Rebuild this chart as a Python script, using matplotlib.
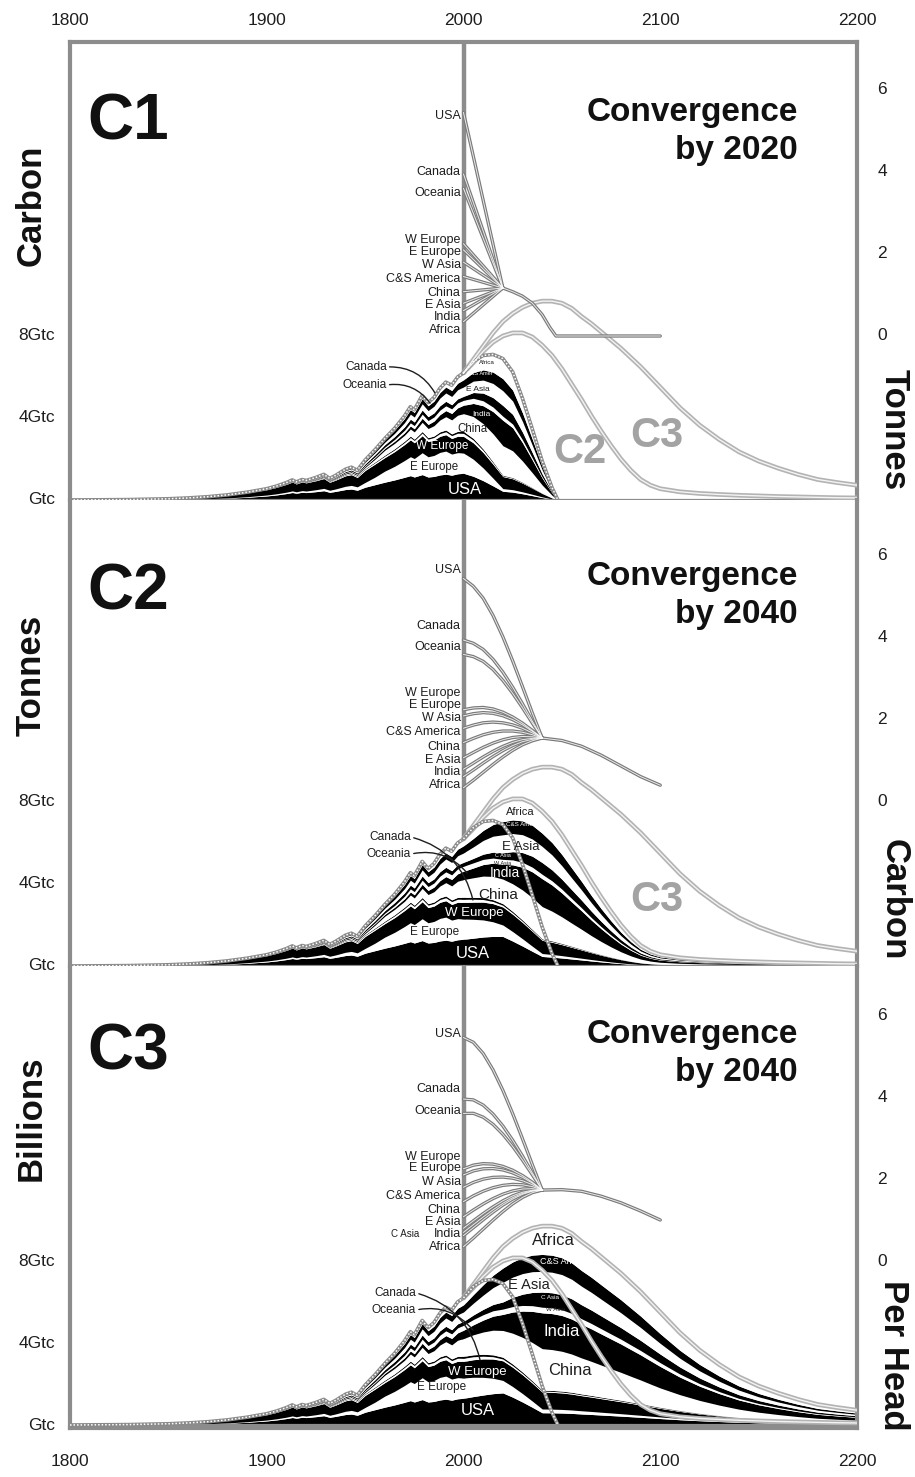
import numpy as np
import matplotlib
matplotlib.use("Agg")
import matplotlib.pyplot as plt

plt.rcParams['font.family'] = ['Liberation Sans', 'DejaVu Sans']

# ---------------------------------------------------------------- data
regions = ['USA', 'E Europe', 'W Europe', 'Canada', 'Oceania', 'China',
           'India', 'W Asia', 'C Asia', 'E Asia', 'C&S America', 'Africa']
band_colors = ['black', 'white'] * 6

# historical global emissions (GtC)
hist_years = [1800, 1830, 1850, 1860, 1870, 1880, 1890, 1900, 1905, 1910, 1913,
              1915, 1918, 1920, 1925, 1929, 1932, 1935, 1940, 1943, 1946, 1950,
              1955, 1960, 1965, 1970, 1973, 1975, 1979, 1982, 1985, 1988, 1991,
              1994, 1997, 2000]
hist_total = [0.0, 0.02, 0.06, 0.10, 0.16, 0.25, 0.38, 0.55, 0.68, 0.85, 0.98,
              0.88, 1.0, 0.95, 1.1, 1.25, 1.05, 1.2, 1.5, 1.6, 1.45, 1.95,
              2.45, 3.0, 3.5, 4.1, 4.55, 4.4, 5.1, 4.75, 5.0, 5.45, 5.75,
              5.6, 6.0, 6.2]

# regional shares of the historical total (rows follow `regions`)
hist_share_years = [1800, 1850, 1900, 1920, 1950, 1960, 1970, 1980, 1990, 2000]
share_usa = [0.30, 0.30, 0.36, 0.38, 0.32, 0.29, 0.27, 0.24, 0.22, 0.21]
share_eeu = [0.05, 0.05, 0.08, 0.08, 0.12, 0.18, 0.20, 0.21, 0.20, 0.16]
share_weu = [0.60, 0.60, 0.48, 0.42, 0.30, 0.22, 0.19, 0.16, 0.14, 0.13]
share_can = [0.01, 0.01, 0.015, 0.02, 0.03, 0.025, 0.025, 0.025, 0.025, 0.025]
share_oce = [0.005, 0.005, 0.01, 0.01, 0.015, 0.015, 0.015, 0.015, 0.015, 0.015]
share_chn = [0.005, 0.005, 0.005, 0.01, 0.03, 0.08, 0.07, 0.09, 0.11, 0.14]
share_ind = [0.01, 0.01, 0.015, 0.02, 0.03, 0.03, 0.03, 0.04, 0.05, 0.065]
share_was = [0.005, 0.005, 0.005, 0.01, 0.02, 0.02, 0.03, 0.04, 0.04, 0.04]
share_cas = [0.005, 0.005, 0.005, 0.01, 0.04, 0.04, 0.04, 0.04, 0.04, 0.03]
share_eas = [0.005, 0.005, 0.015, 0.02, 0.04, 0.04, 0.05, 0.06, 0.07, 0.075]
share_csa = [0.0025, 0.0025, 0.005, 0.01, 0.035, 0.04, 0.05, 0.05, 0.05, 0.055]
share_afr = [0.0025, 0.0025, 0.005, 0.01, 0.02, 0.02, 0.03, 0.03, 0.04, 0.055]
hist_shares = [share_usa, share_eeu, share_weu, share_can, share_oce, share_chn,
               share_ind, share_was, share_cas, share_eas, share_csa, share_afr]

# shares half-way to convergence (2020, C2/C3), at convergence, and late-century
mid_shares = [0.18, 0.07, 0.11, 0.01, 0.01, 0.15, 0.09, 0.03, 0.04, 0.11, 0.08, 0.12]
conv_shares = [0.065, 0.02, 0.09, 0.005, 0.005, 0.22, 0.19, 0.03, 0.08, 0.11, 0.09, 0.15]
late_shares = [0.06, 0.015, 0.08, 0.005, 0.005, 0.18, 0.20, 0.035, 0.08, 0.10, 0.09, 0.20]

# contraction budgets (GtC)
c1_years = [2000, 2005, 2010, 2015, 2020, 2025, 2030, 2035, 2040, 2045, 2048]
c1_total = [6.2, 6.75, 7.05, 7.1, 6.9, 6.25, 4.95, 3.45, 1.9, 0.6, 0.0]
c2_years = [2000, 2005, 2010, 2015, 2020, 2025, 2030, 2035, 2040, 2045, 2050,
            2055, 2060, 2065, 2070, 2075, 2080, 2085, 2090, 2095, 2100, 2110,
            2120, 2130, 2140, 2150, 2160, 2170, 2180, 2190, 2200]
c2_total = [6.2, 6.7, 7.25, 7.7, 8.0, 8.15, 8.15, 7.95, 7.55, 7.05, 6.4,
            5.65, 4.9, 4.1, 3.35, 2.65, 2.0, 1.45, 1.0, 0.72, 0.55, 0.4,
            0.32, 0.27, 0.23, 0.2, 0.17, 0.15, 0.13, 0.11, 0.1]
c3_years = c2_years
c3_total = [6.2, 6.85, 7.5, 8.15, 8.7, 9.1, 9.4, 9.6, 9.7, 9.7, 9.6,
            9.35, 8.95, 8.6, 8.2, 7.8, 7.4, 6.95, 6.5, 6.0, 5.5, 4.5,
            3.65, 2.95, 2.35, 1.9, 1.55, 1.25, 1.0, 0.85, 0.72]

# per-capita emissions (tonnes C per head) in 2000
pc_regions = ['USA', 'Canada', 'Oceania', 'W Europe', 'E Europe', 'W Asia',
              'C&S America', 'China', 'E Asia', 'India', 'Africa']
pc_2000 = [5.45, 3.95, 3.6, 2.25, 2.1, 1.8, 1.45, 1.08, 0.8, 0.62, 0.35]
pc_casia_2000 = 0.7

# convergence paths
c1_path_years = [2000, 2005, 2010, 2015, 2020]
c1_bump = [0, 0, 0, 0, 0]
c2_path_years = [2000, 2005, 2010, 2015, 2020, 2025, 2030, 2035, 2040]
c2_bump = [0, 0.06, 0.11, 0.14, 0.15, 0.14, 0.11, 0.06, 0]
c3_bump = [0, 0.07, 0.12, 0.15, 0.16, 0.15, 0.12, 0.07, 0]

# global per-capita after convergence
c1_pc_years = [2020, 2025, 2030, 2035, 2040, 2044, 2047, 2100]
c1_pc = [1.17, 1.08, 0.97, 0.8, 0.52, 0.2, 0.0, 0.0]
c2_pc_years = [2040, 2050, 2060, 2070, 2080, 2090, 2100]
c2_pc = [1.56, 1.5, 1.36, 1.14, 0.88, 0.62, 0.41]
c3_pc_years = [2040, 2050, 2060, 2070, 2080, 2090, 2100]
c3_pc = [1.73, 1.74, 1.70, 1.58, 1.42, 1.22, 1.0]

# label heights (tonnes per head) of the region names beside the 2000 line
lab_pc1 = [5.37, 4.0, 3.49, 2.34, 2.05, 1.73, 1.39, 1.05, 0.76, 0.46, 0.15]
lab_pc2 = [5.66, 4.29, 3.78, 2.66, 2.37, 2.05, 1.71, 1.34, 1.02, 0.73, 0.41]
lab_pc3 = [5.54, 4.2, 3.66, 2.54, 2.27, 1.93, 1.59, 1.24, 0.95, 0.66, 0.34]

x_ticks = [1800, 1900, 2000, 2100, 2200]
right_ticks = [0, 2, 4, 6]

# ---------------------------------------------------------------- layout
W, H = 915, 1477
X0, X1 = 70, 857
PXG = 20.5                      # pixels per GtC
FRAME = '#8c8c8c'
TXT = '#1e1e1e'

fig = plt.figure(figsize=(W / 100, H / 100), dpi=100)
fig.patch.set_facecolor('white')
panels = [(42, 500, 500), (500, 966, 966), (966, 1428, 1425)]
axes = []
for top, bot, base in panels:
    ax = fig.add_axes([X0 / W, 1 - bot / H, (X1 - X0) / W, (bot - top) / H])
    ax.set_xlim(1800, 2200)
    ax.set_ylim(-(bot - base) / PXG, (base - top) / PXG)
    ax.set_yticks([])
    ax.set_facecolor('white')
    for s in ax.spines.values():
        s.set_color(FRAME)
        s.set_linewidth(3)
    axes.append(ax)
axes[0].spines['bottom'].set_visible(False)
axes[1].spines['top'].set_visible(False)
axes[1].spines['bottom'].set_visible(False)
axes[2].spines['top'].set_visible(False)

axes[0].xaxis.tick_top()
axes[0].set_xticks(x_ticks)
axes[0].tick_params(axis='x', length=0, pad=10, labelsize=12.5, labelcolor=TXT)
axes[1].set_xticks([])
axes[2].set_xticks(x_ticks)
axes[2].tick_params(axis='x', length=0, pad=19, labelsize=12.5, labelcolor=TXT)


def pc_y(v):
    return 8 + 2 * np.asarray(v, float)


def build_bands(fut_years, fut_total, key_years, key_shares):
    years = np.concatenate([hist_years, fut_years[1:]]).astype(float)
    total = np.concatenate([hist_total, fut_total[1:]]).astype(float)
    S = np.zeros((len(regions), len(years)))
    hm = years <= 2000
    for i in range(len(regions)):
        S[i, hm] = np.interp(years[hm], hist_share_years, hist_shares[i])
        S[i, ~hm] = np.interp(years[~hm], key_years, [row[i] for row in key_shares])
    S /= S.sum(axis=0)
    cum = np.vstack([np.zeros(len(years)), np.cumsum(S, axis=0)]) * total
    return years, cum


def dotted(ax, x, y, z=3):
    ax.plot(x, y, color='#8a8a8a', lw=2.6, zorder=z, solid_capstyle='round')
    ax.plot(x, y, color='white', lw=1.1, ls=(0, (1.0, 1.3)), zorder=z + 0.1)


def double(ax, x, y, z=3):
    ax.plot(x, y, color='#b3b3b3', lw=3.4, zorder=z, solid_capstyle='round')
    ax.plot(x, y, color='#f4f4f4', lw=1.0, zorder=z + 0.1)


def pc_line(ax, x, y, z=4):
    ax.plot(x, y, color='#7a7a7a', lw=2.4, zorder=z, solid_capstyle='round')
    ax.plot(x, y, color='white', lw=0.7, zorder=z + 0.1, alpha=0.85)


hist2000 = [row[-1] for row in hist_shares]
scen = [
    dict(years=c1_years, total=c1_total, key_years=[2000, 2020, 2050],
         key_shares=[hist2000, conv_shares, conv_shares],
         path_years=c1_path_years, bump=c1_bump, pcy=c1_pc_years, pc=c1_pc,
         labs=lab_pc1),
    dict(years=c2_years, total=c2_total, key_years=[2000, 2020, 2040, 2100, 2200],
         key_shares=[hist2000, mid_shares, conv_shares, late_shares, late_shares],
         path_years=c2_path_years, bump=c2_bump, pcy=c2_pc_years, pc=c2_pc,
         labs=lab_pc2),
    dict(years=c3_years, total=c3_total, key_years=[2000, 2020, 2040, 2100, 2200],
         key_shares=[hist2000, mid_shares, conv_shares, late_shares, late_shares],
         path_years=c2_path_years, bump=c3_bump, pcy=c3_pc_years, pc=c3_pc,
         labs=lab_pc3),
]

for k, (ax, sc) in enumerate(zip(axes, scen)):
    ax.axvline(2000, color=FRAME, lw=3.2, zorder=1)
    ax.axhline(0, color=FRAME, lw=1.6, zorder=2.6)
    years, cum = build_bands(sc['years'], sc['total'], sc['key_years'], sc['key_shares'])
    for i in range(len(regions)):
        ax.fill_between(years, cum[i], cum[i + 1], color=band_colors[i], lw=0, zorder=2)
    # outline of the stack
    dotted(ax, hist_years, hist_total, z=2.8)
    if k == 0:
        dotted(ax, c1_years, c1_total, z=2.8)
        double(ax, c2_years, c2_total, z=2.7)
        double(ax, c3_years, c3_total, z=2.7)
    elif k == 1:
        double(ax, c2_years, c2_total, z=2.8)
        double(ax, c3_years, c3_total, z=2.7)
        dotted(ax, c1_years, c1_total, z=3)
    else:
        double(ax, c3_years, c3_total, z=2.8)
        double(ax, c2_years, c2_total, z=3)
        dotted(ax, c1_years, c1_total, z=3.1)

    # per-capita convergence lines
    py = np.array(sc['path_years'], float)
    s = (py - py[0]) / (py[-1] - py[0])
    pcc = sc['pc'][0]
    starts = list(pc_2000) + ([pc_casia_2000] if k == 2 else [])
    for p0 in starts:
        vals = (p0 + (pcc - p0) * s) * (1 + np.array(sc['bump']))
        pc_line(ax, py, pc_y(vals))
    pc_line(ax, sc['pcy'], pc_y(sc['pc']))

    # region names by the 2000 line
    for name, v in zip(pc_regions, sc['labs']):
        ax.text(1998.6, pc_y(v), name, ha='right', va='center', fontsize=9,
                color=TXT, zorder=6)
    if k == 2:
        ax.text(1977.6, pc_y(0.66), 'C Asia', ha='right', va='center',
                fontsize=7, color=TXT, zorder=6)

    # left / right scale labels
    for v, t in [(0, 'Gtc'), (4, '4Gtc'), (8, '8Gtc')]:
        ax.text(1792.4, v, t, ha='right', va='center', fontsize=12.5,
                color=TXT, clip_on=False)
    for v in right_ticks:
        ax.text(2212.7, pc_y(v), str(v), ha='center', va='center',
                fontsize=12.5, color=TXT, clip_on=False)

# band labels: (text, year, GtC, colour, size)
band_labels = [
    [('USA', 2000.8, 0.5, 'white', 12), ('E Europe', 1985.0, 1.6, TXT, 8.3),
     ('W Europe', 1989, 2.63, 'white', 8.5), ('China', 2004.3, 3.46, TXT, 8.3),
     ('India', 2008.9, 4.15, 'white', 6), ('E Asia', 2007.4, 5.37, TXT, 6),
     ('C&S Amer', 2008.4, 6.15, 'white', 4), ('Africa', 2012, 6.73, TXT, 4.5)],
    [('USA', 2004.8, 0.63, 'white', 12), ('E Europe', 1985.5, 1.66, TXT, 8.5),
     ('W Europe', 2005.3, 2.59, 'white', 9.5), ('China', 2017.5, 3.46, TXT, 11),
     ('India', 2021, 4.54, 'white', 10), ('W Asia', 2020, 5.02, TXT, 4),
     ('C Asia', 2020, 5.4, 'white', 4), ('E Asia', 2029.2, 5.8, TXT, 9.5),
     ('C&S Amer', 2028.7, 6.88, 'white', 4.5), ('Africa', 2028.7, 7.51, TXT, 8)],
    [('USA', 2007.4, 0.73, 'white', 12), ('E Europe', 1988.6, 1.85, TXT, 8.5),
     ('W Europe', 2006.9, 2.59, 'white', 9.5), ('China', 2054, 2.68, TXT, 12),
     ('India', 2050, 4.54, 'white', 12), ('W Asia', 2047, 5.61, TXT, 4.5),
     ('C Asia', 2044, 6.24, 'white', 4.5), ('E Asia', 2033.3, 6.83, TXT, 10.5),
     ('C&S Amer.', 2050, 8.0, 'white', 6.5), ('Africa', 2045.5, 9.02, TXT, 12)],
]
for ax, labs in zip(axes, band_labels):
    for t, x, y, c, fs in labs:
        ax.text(x, y, t, ha='center', va='center', color=c, fontsize=fs, zorder=5)

# Canada / Oceania pointers: (text x, text y, target x, target y)
pointers = [
    [((1961.0, 6.49), (1985.5, 5.22)), ((1961.0, 5.61), (1983.0, 4.73))],
    [((1973.3, 6.29), (2004.8, 3.22)), ((1973.3, 5.46), (2001.8, 4.54))],
    [((1975.9, 6.44), (2008.4, 3.17)), ((1975.9, 5.61), (2004.8, 4.63))],
]
for ax, prs in zip(axes, pointers):
    for name, (xt, xy) in zip(['Canada', 'Oceania'], prs):
        ax.annotate(name, xy=xy, xytext=xt, ha='right', va='center',
                    fontsize=8.6, color=TXT, zorder=6,
                    arrowprops=dict(arrowstyle='-', color=TXT, lw=1.0,
                                    connectionstyle='arc3,rad=-0.3',
                                    relpos=(1, 0.5), shrinkA=0, shrinkB=0))

# scenario names on the light grey budget curves
GR = '#a3a3a3'
axes[0].text(2059.2, (500 - 452) / PXG, 'C2', color=GR, fontsize=30,
             fontweight='bold', ha='center', va='center', zorder=2.9)
axes[0].text(2098.3, (500 - 436) / PXG, 'C3', color=GR, fontsize=30,
             fontweight='bold', ha='center', va='center', zorder=2.9)
axes[1].text(2098.3, (966 - 900) / PXG, 'C3', color=GR, fontsize=30,
             fontweight='bold', ha='center', va='center', zorder=2.9)

# big panel titles
for y, t in [(123, 'C1'), (593, 'C2'), (1053, 'C3')]:
    fig.text(87 / W, 1 - y / H, t, fontsize=46, fontweight='bold', ha='left',
             va='center', color='#111111')
for y1, y2, t in [(112, 150, 'by 2020'), (577, 614, 'by 2040'), (1034, 1072, 'by 2040')]:
    fig.text(798 / W, 1 - y1 / H, 'Convergence', fontsize=24, fontweight='bold',
             ha='right', va='center', color='#111111')
    fig.text(798 / W, 1 - y2 / H, t, fontsize=24, fontweight='bold',
             ha='right', va='center', color='#111111')

# side labels
for y, t in [(205, 'Carbon'), (675, 'Tonnes'), (1118, 'Billions')]:
    fig.text(31 / W, 1 - y / H, t, fontsize=25, fontweight='bold', rotation=90,
             ha='center', va='center', color='#111111')
for y, t in [(430, 'Tonnes'), (900, 'Carbon'), (1355, 'Per Head')]:
    fig.text(894 / W, 1 - y / H, t, fontsize=25, fontweight='bold', rotation=270,
             ha='center', va='center', color='#111111')

fig.savefig('out.png', dpi=100, facecolor='white')
